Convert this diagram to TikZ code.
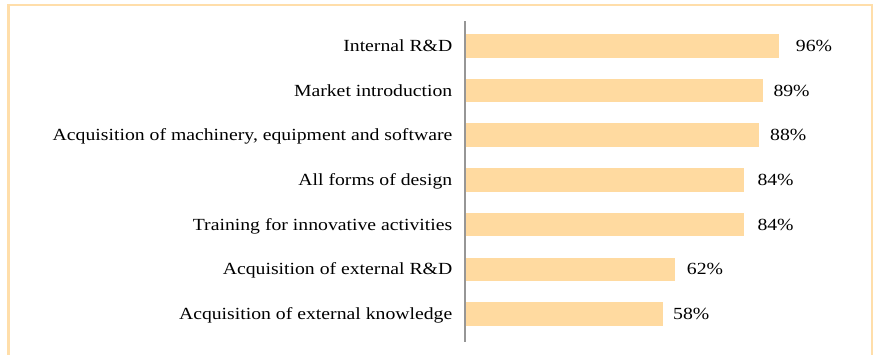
\documentclass[tikz,border=0pt]{standalone}
\usepackage{fontspec}
\setmainfont[FakeStretch=1.16]{Liberation Serif}
\usepackage{tikz}
\usetikzlibrary{positioning,calc}
\definecolor{barorange}{RGB}{255,218,160}
\definecolor{frameorange}{RGB}{255,222,170}
\definecolor{axisgray}{RGB}{150,150,150}
\tikzset{cat label/.style={anchor=base east,inner sep=0pt,font=\fontsize{17}{20}\selectfont},
         val label/.style={anchor=base west,inner sep=0pt,font=\fontsize{17}{20}\selectfont}}

\begin{document}
\begin{tikzpicture}[x=1pt,y=-1pt]
\useasboundingbox (0,0) rectangle (873,354);
\draw[frameorange, line width=2.5pt] (8.7,360) -- (8.7,5) -- (872.3,5) -- (872.3,360);

% bars, labels and values
\foreach \i/\txt/\len/\vx/\val in {0/{Internal R\&D}/779/795.7/96,
  1/{Market introduction}/763/773.3/89,
  2/{Acquisition of machinery, equipment and software}/759/770/88,
  3/{All forms of design}/744/757.3/84,
  4/{Training for innovative activities}/744/757.3/84,
  5/{Acquisition of external R\&D}/675/686.7/62,
  6/{Acquisition of external knowledge}/663/673/58}
         {
\fill[barorange] (465,{45.8+44.7*\i-11.75}) rectangle (\len,{45.8+44.7*\i+11.75});
\node[cat label] (cat\i) at (452.5,{45.8+44.7*\i+5.5}) {\txt};
\node[val label] (val\i) at (\vx,{45.8+44.7*\i+5.5}) {\val\%};
}

\draw[axisgray, line width=2pt] (464.5,21) -- (464.5,342);
\end{tikzpicture}
\end{document}
